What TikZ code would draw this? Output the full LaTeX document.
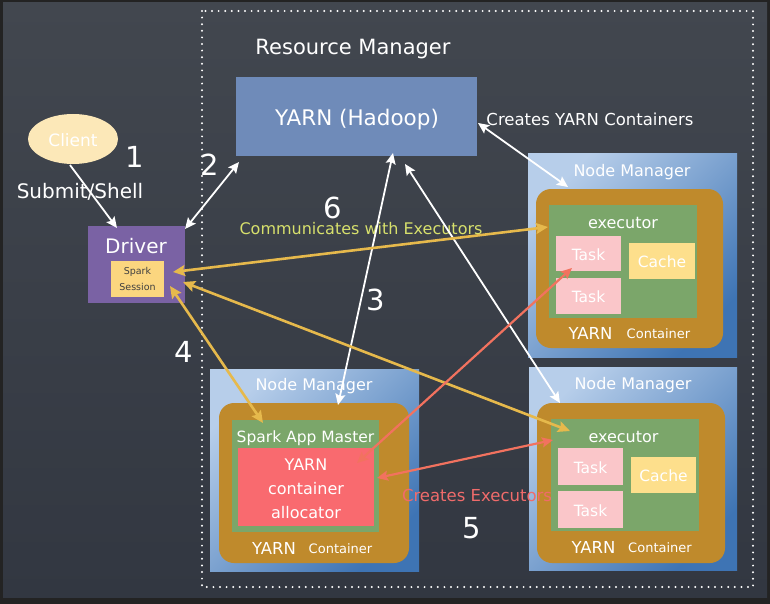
\documentclass[tikz,border=0pt]{standalone}
\usepackage{fontspec}
\setmainfont{DejaVu Sans}
\usetikzlibrary{arrows.meta,shapes.geometric}
\definecolor{boardtop}{HTML}{42474F}
\definecolor{boardbot}{HTML}{323741}
\definecolor{frame}{HTML}{232323}
\definecolor{yarnblue}{HTML}{6F8BB9}
\definecolor{nmlight}{HTML}{B7CEEA}
\definecolor{nmdark}{HTML}{3E74B4}
\definecolor{contor}{HTML}{BF8A2C}
\definecolor{exgreen}{HTML}{7BA66A}
\definecolor{taskpink}{HTML}{FAC6C9}
\definecolor{cacheyel}{HTML}{FDDF8C}
\definecolor{allocred}{HTML}{F96A6F}
\definecolor{drvpurple}{HTML}{7A62A4}
\definecolor{clientfill}{HTML}{FCE8B8}
\definecolor{sessfill}{HTML}{FBD67F}
\definecolor{chalkyel}{HTML}{E6B94C}
\definecolor{chalkred}{HTML}{F2725F}
\definecolor{commtxt}{HTML}{D7E06C}
\definecolor{crtxt}{HTML}{F06B6B}
\begin{document}
\begin{tikzpicture}[x=1pt,y=-1pt,
  box/.style={inner sep=0pt, outer sep=0pt, draw=none},
  nmbox/.style={box, top color=nmlight, bottom color=nmdark, shading angle=45},
  orbox/.style={box, fill=contor, rounded corners=15pt},
  exbox/.style={box, fill=exgreen},
  taskbox/.style={box, fill=taskpink},
  cachebox/.style={box, fill=cacheyel},
  wt/.style={text=white, inner sep=0pt, font=\fontsize{#1}{#1}\selectfont},
  wt/.default=16,
  wlink/.style={draw=white, line width=1.8pt, {Stealth[length=11pt,width=10pt,inset=2pt]}-{Stealth[length=11pt,width=10pt,inset=2pt]}},
  ylink/.style={draw=chalkyel, line width=2.6pt, {Stealth[length=12pt,width=11pt,inset=2pt]}-{Stealth[length=12pt,width=11pt,inset=2pt]}},
  rlink/.style={draw=chalkred, line width=2.2pt, {Stealth[length=11pt,width=10pt,inset=2pt]}-{Stealth[length=11pt,width=10pt,inset=2pt]}}
]
\useasboundingbox (0,0) rectangle (770,604);
% background
\fill[frame] (0,0) rectangle (770,604);
\shade[top color=boardtop, bottom color=boardbot] (3,3) rectangle (767,597);
% dotted resource manager frame
\draw[white, line width=2.2pt, line cap=round, dash pattern=on 0pt off 6.6pt] (202,11) rectangle (753,587);
\node[wt=21] (rmtitle) at (353,49) {Resource Manager};

% YARN
\node[box, fill=yarnblue, minimum width=241pt, minimum height=79pt] (yarn) at (356.5,116.5) {};
\node[wt=21.5] (yarntxt) at (357,120) {YARN (Hadoop)};
\node[wt=16.5] (crc) at (590,119) {Creates YARN Containers};

% Client & driver
\node[ellipse, fill=clientfill, minimum width=90pt, minimum height=50pt, inner sep=0pt] (client) at (73,139) {};
\node[wt=17] (clienttxt) at (73,140) {Client};
\node[wt=29] (n1) at (135,157) {1};
\node[wt=29] (n2) at (210,165) {2};
\node[wt=20] (submit) at (80,192) {Submit/Shell};
\node[box, fill=drvpurple, minimum width=97pt, minimum height=77pt] (driver) at (136.5,264.5) {};
\node[wt=20] (drivertxt) at (136,246) {Driver};
\node[box, fill=sessfill, minimum width=53pt, minimum height=36pt] (sess) at (137.5,279) {};
\node[text=black!75, inner sep=0pt, align=center, font=\fontsize{9.5}{16}\selectfont] (sesstxt) at (137.5,279) {Spark\\Session};

% numbers and labels
\node[wt=29] (n6) at (333,208) {6};
\node[wt=29] (n3) at (376,300) {3};
\node[wt=29] (n4) at (184,352) {4};
\node[wt=29] (n5) at (472,528) {5};
\node[text=commtxt, inner sep=0pt, font=\fontsize{16}{16}\selectfont] (comm) at (361,229) {Communicates with Executors};

% Node manager top right
\node[nmbox, minimum width=209pt, minimum height=203pt] (nm1) at (632.5,255.5) {};
\node[wt=16] (nm1t) at (632,172) {Node Manager};
\node[orbox, minimum width=187pt, minimum height=159pt] (oc1) at (629.5,268.5) {};
\node[exbox, minimum width=148pt, minimum height=113pt] (ex1) at (623,261.5) {};
\node[wt=16] (ex1t) at (623,223) {executor};
\node[taskbox, minimum width=65pt, minimum height=35pt] (t1a) at (588.5,253.5) {};
\node[wt=15.5] (t1at) at (588.5,255) {Task};
\node[taskbox, minimum width=65pt, minimum height=36pt] (t1b) at (588.5,296) {};
\node[wt=15.5] (t1bt) at (588.5,297) {Task};
\node[cachebox, minimum width=66pt, minimum height=36pt] (ca1) at (662,261) {};
\node[wt=15.5] (ca1t) at (662,262) {Cache};
\node[wt=16.5] (y1) at (590.5,333) {YARN};
\node[wt=13] (c1) at (658.5,334) {Container};

% Node manager bottom right
\node[nmbox, minimum width=208pt, minimum height=203pt] (nm2) at (633,468.5) {};
\node[wt=16] (nm2t) at (633,385) {Node Manager};
\node[orbox, minimum width=188pt, minimum height=160pt] (oc2) at (631,483) {};
\node[exbox, minimum width=148pt, minimum height=112pt] (ex2) at (625,475) {};
\node[wt=16] (ex2t) at (623.5,437) {executor};
\node[taskbox, minimum width=65pt, minimum height=37pt] (t2a) at (590.5,466.5) {};
\node[wt=15.5] (t2at) at (590.5,468) {Task};
\node[taskbox, minimum width=65pt, minimum height=37pt] (t2b) at (590.5,509.5) {};
\node[wt=15.5] (t2bt) at (590.5,511) {Task};
\node[cachebox, minimum width=65pt, minimum height=36pt] (ca2) at (663.5,475) {};
\node[wt=15.5] (ca2t) at (663.5,476) {Cache};
\node[wt=16.5] (y2) at (593.5,547) {YARN};
\node[wt=13] (c2) at (660,548) {Container};

% Node manager bottom left
\node[nmbox, minimum width=209pt, minimum height=202pt] (nm3) at (314.5,470) {};
\node[wt=16] (nm3t) at (314,386) {Node Manager};
\node[orbox, minimum width=190pt, minimum height=160pt] (oc3) at (314,483) {};
\node[exbox, minimum width=147pt, minimum height=112pt] (am) at (305.5,476) {};
\node[wt=15.5] (amt) at (305.5,438) {Spark App Master};
\node[box, fill=allocred, minimum width=136pt, minimum height=78pt] (alloc) at (306,487) {};
\node[text=white, inner sep=0pt, align=center, font=\fontsize{16}{24}\selectfont] (alloct) at (306,489) {YARN\\container\\allocator};
\node[wt=16.5] (y3) at (274,548) {YARN};
\node[wt=13] (c3) at (340.5,549) {Container};

\node[text=crtxt, inner sep=0pt, font=\fontsize{16.5}{16.5}\selectfont] (crex) at (477,495) {Creates Executors};

% connector end points
\coordinate (cl1) at (70,165);   \coordinate (dr1) at (117,228);
\coordinate (dr2) at (185,229);  \coordinate (ya2) at (239,162);
\coordinate (ya3) at (393,153);  \coordinate (nm3a) at (338,405);
\coordinate (ya4) at (405,164);  \coordinate (nm2a) at (560,403);
\coordinate (ya5) at (478,123);  \coordinate (nm1a) at (568,187);
\coordinate (se1) at (173,272);  \coordinate (ex1a) at (548,227);
\coordinate (se2) at (183,282);  \coordinate (ex2a) at (570,431);
\coordinate (se3) at (170,286);  \coordinate (ama) at (263,423);
\coordinate (al1) at (357,463);  \coordinate (t1aa) at (572,268);
\coordinate (al2) at (377,478);  \coordinate (ex2b) at (553,440);

% white arrows
\draw[draw=white, line width=1.8pt, -{Stealth[length=11pt,width=10pt,inset=2pt]}] (cl1) -- (dr1);
\draw[wlink] (dr2) -- (ya2);
\draw[wlink] (ya3) -- (nm3a);
\draw[wlink] (ya4) -- (nm2a);
\draw[wlink] (ya5) -- (nm1a);
% yellow arrows
\draw[ylink] (se1) -- (ex1a);
\draw[ylink] (se2) -- (ex2a);
\draw[ylink] (se3) -- (ama);
% red arrows
\draw[rlink] (al1) -- (t1aa);
\draw[rlink] (al2) -- (ex2b);
\end{tikzpicture}
\end{document}
